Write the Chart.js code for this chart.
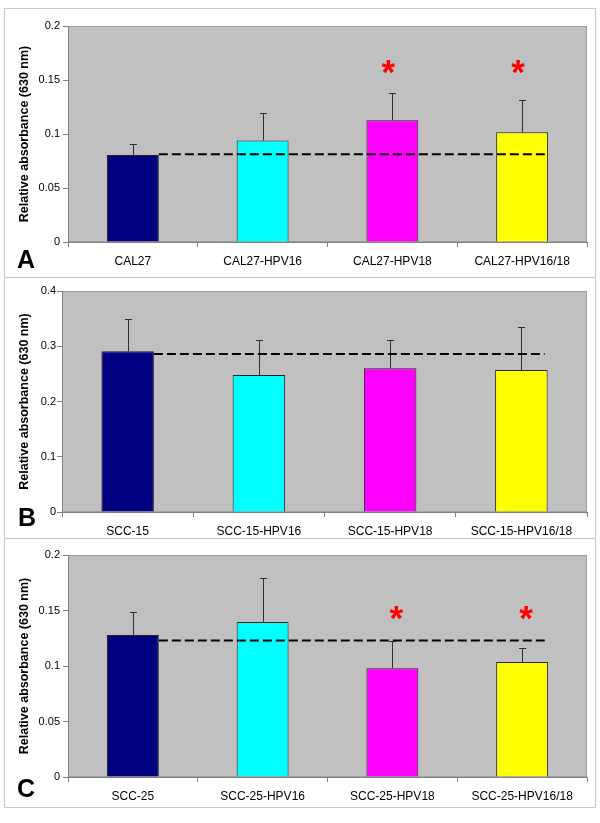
<!DOCTYPE html>
<html>
<head>
<meta charset="utf-8">
<script src="https://cdn.jsdelivr.net/npm/chart.js@4.4.1/dist/chart.umd.min.js"></script>
<style>
  body { margin: 0; background: #fff; }
  #wrap { position: relative; width: 600px; height: 823px; }
  #wrap canvas { position: absolute; left: 4px; }
</style>
</head>
<body>
<div id="wrap">
  <canvas id="chartA" width="592" height="270" style="top:8px"></canvas>
  <canvas id="chartB" width="592" height="261" style="top:278px"></canvas>
  <canvas id="chartC" width="592" height="269" style="top:539px"></canvas>
</div>
<script>
// Panel A - CAL27
const labelsA = ["CAL27", "CAL27-HPV16", "CAL27-HPV18", "CAL27-HPV16/18"];
const valuesA = [0.0806, 0.094, 0.1127, 0.1016];
const errorsA = [0.0104, 0.025, 0.0253, 0.0302];
const controlA = 0.0812;
const starsA = [false, false, true, true];
const starLevelA = 0.162;
const yTicksA = [0, 0.05, 0.1, 0.15, 0.2];

// Panel B - SCC-15
const labelsB = ["SCC-15", "SCC-15-HPV16", "SCC-15-HPV18", "SCC-15-HPV16/18"];
const valuesB = [0.291, 0.248, 0.26, 0.257];
const errorsB = [0.059, 0.064, 0.052, 0.077];
const controlB = 0.286;
const starsB = [false, false, false, false];
const starLevelB = 0;
const yTicksB = [0, 0.1, 0.2, 0.3, 0.4];

// Panel C - SCC-25
const labelsC = ["SCC-25", "SCC-25-HPV16", "SCC-25-HPV18", "SCC-25-HPV16/18"];
const valuesC = [0.128, 0.1397, 0.098, 0.1035];
const errorsC = [0.0204, 0.0393, 0.0249, 0.0131];
const controlC = 0.1229;
const starsC = [false, false, true, true];
const starLevelC = 0.148;
const yTicksC = [0, 0.05, 0.1, 0.15, 0.2];

const barColors = ["#000080", "#00ffff", "#ff00ff", "#ffff00"];
const FONT = "Arial, 'Liberation Sans', sans-serif";

// frame, grey plot area, error bars, dashed control line, stars and letter
const panelPlugin = {
  id: "panel",
  beforeDraw(chart, args, opts) {
    const { ctx, chartArea: a, width, height } = chart;
    ctx.save();
    ctx.fillStyle = "#fff";
    ctx.fillRect(0, 0, width, height);
    ctx.strokeStyle = "#c8c8c8";
    ctx.lineWidth = 1;
    ctx.beginPath();
    if (opts.topLine) {
      ctx.moveTo(0, 0.5);
      ctx.lineTo(width, 0.5);
    }
    ctx.moveTo(0.5, 0);
    ctx.lineTo(0.5, height - 0.5);
    ctx.lineTo(width - 0.5, height - 0.5);
    ctx.lineTo(width - 0.5, 0);
    ctx.stroke();
    ctx.fillStyle = "#c0c0c0";
    ctx.fillRect(a.left, a.top, a.right - a.left, a.bottom - a.top);
    ctx.strokeStyle = "#a0a0a0";
    ctx.strokeRect(a.left + 0.5, a.top + 0.5, a.right - a.left - 1, a.bottom - a.top - 1);
    ctx.restore();
  },
  afterDatasetsDraw(chart, args, opts) {
    const { ctx } = chart;
    const y = chart.scales.y;
    const meta = chart.getDatasetMeta(0);
    ctx.save();

    // error bars (upper only)
    ctx.strokeStyle = "#303030";
    ctx.lineWidth = 1;
    meta.data.forEach((bar, i) => {
      const x = Math.round(bar.x) + 0.5;
      const top = Math.round(y.getPixelForValue(opts.values[i] + opts.errors[i])) + 0.5;
      ctx.beginPath();
      ctx.moveTo(x, bar.y);
      ctx.lineTo(x, top);
      ctx.moveTo(x - 3.5, top);
      ctx.lineTo(x + 3.5, top);
      ctx.stroke();
    });

    // dashed control level
    const first = meta.data[0];
    const last = meta.data[meta.data.length - 1];
    const yc = y.getPixelForValue(opts.control);
    ctx.strokeStyle = "#000";
    ctx.lineWidth = 2;
    ctx.setLineDash([9, 4]);
    ctx.beginPath();
    ctx.moveTo(first.x + first.width / 2, yc);
    ctx.lineTo(last.x + last.width / 2 - 3, yc);
    ctx.stroke();
    ctx.setLineDash([]);

    // significance stars
    ctx.fillStyle = "#ff0000";
    ctx.font = "bold 35px " + FONT;
    ctx.textAlign = "center";
    ctx.textBaseline = "alphabetic";
    const m = ctx.measureText("*");
    const shift = (m.actualBoundingBoxAscent - m.actualBoundingBoxDescent) / 2;
    meta.data.forEach((bar, i) => {
      if (!opts.stars[i]) return;
      ctx.fillText("*", bar.x + opts.starShift, y.getPixelForValue(opts.starLevel) + shift);
    });

    // panel letter
    ctx.fillStyle = "#000";
    ctx.font = "bold 25px " + FONT;
    ctx.textAlign = "left";
    ctx.fillText(opts.letter, opts.letterX, opts.letterY);
    ctx.restore();
  }
};

function makeChart(id, labels, values, errors, control, stars, starLevel, yTicks, p) {
  const ctx = document.getElementById(id).getContext("2d");
  return new Chart(ctx, {
    type: "bar",
    data: {
      labels: labels,
      datasets: [{
        data: values,
        backgroundColor: barColors,
        borderColor: "#222",
        borderWidth: 1,
        categoryPercentage: 1,
        barPercentage: 0.4
      }]
    },
    options: {
      responsive: false,
      animation: false,
      layout: { padding: { left: 0, top: p.padTop, right: 9, bottom: 0 } },
      plugins: {
        legend: { display: false },
        tooltip: { enabled: false },
        panel: {
          values, errors, control, stars, starLevel,
          starShift: p.starShift, letter: p.letter, letterX: p.letterX, letterY: p.letterY,
          topLine: p.topLine
        }
      },
      scales: {
        x: {
          afterFit: s => { s.height = p.xHeight; },
          grid: { drawOnChartArea: false, tickLength: 5, tickColor: "#808080", offset: true },
          border: { color: "#808080" },
          ticks: { color: "#000", font: { family: FONT, size: 12 }, padding: 7, autoSkip: false, maxRotation: 0 }
        },
        y: {
          min: yTicks[0],
          max: yTicks[yTicks.length - 1],
          afterFit: s => { s.width = p.yWidth; },
          afterBuildTicks: s => { s.ticks = yTicks.map(v => ({ value: v })); },
          grid: { drawOnChartArea: false, tickLength: 5, tickColor: "#808080" },
          border: { color: "#808080" },
          ticks: {
            color: "#000",
            font: { family: FONT, size: 11 },
            padding: p.tickPad,
            callback: v => String(+v.toFixed(4))
          },
          title: {
            display: true,
            text: "Relative absorbance (630 nm)",
            color: "#000",
            font: { family: FONT, size: 12.5, weight: "bold" },
            padding: { top: 13, bottom: 0 }
          }
        }
      }
    },
    plugins: [panelPlugin]
  });
}

makeChart("chartA", labelsA, valuesA, errorsA, controlA, starsA, starLevelA, yTicksA,
  { padTop: 18, xHeight: 36, yWidth: 64, tickPad: 3, starShift: -4, letter: "A", letterX: 13, letterY: 260, topLine: true });
makeChart("chartB", labelsB, valuesB, errorsB, controlB, starsB, starLevelB, yTicksB,
  { padTop: 13, xHeight: 27, yWidth: 58, tickPad: 1, starShift: 0, letter: "B", letterX: 14, letterY: 248, topLine: false });
makeChart("chartC", labelsC, valuesC, errorsC, controlC, starsC, starLevelC, yTicksC,
  { padTop: 16, xHeight: 31, yWidth: 64, tickPad: 3, starShift: 4, letter: "C", letterX: 13, letterY: 258, topLine: false });
</script>
</body>
</html>
